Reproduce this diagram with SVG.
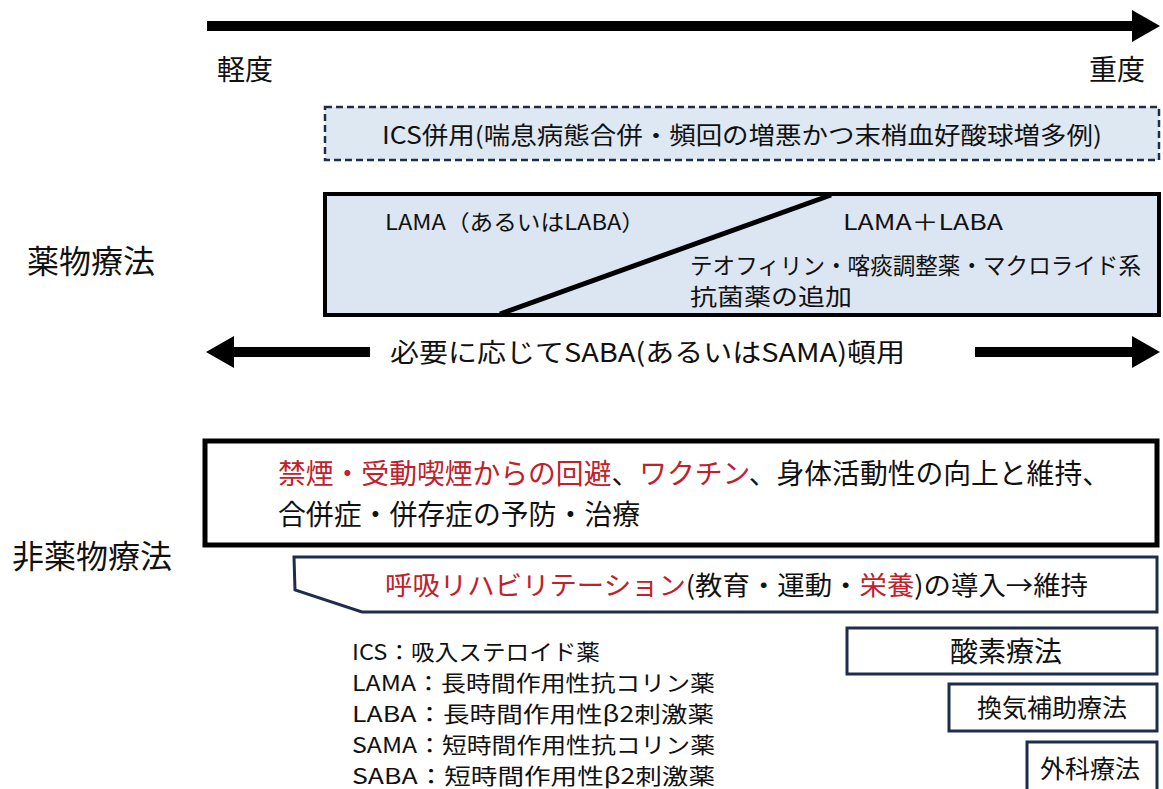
<svg xmlns="http://www.w3.org/2000/svg" width="1163" height="789" viewBox="0 0 1163 789">
<style>
text{font-family:"Noto Sans CJK JP","Noto Sans",sans-serif;fill:#111;}
.red{fill:#c0212b;}
.nv{fill:#fff;stroke:#1f2d4d;stroke-width:3;}
.arr{stroke:#000;stroke-width:10;fill:none;}
</style>
<defs>
<marker id="ah" markerUnits="userSpaceOnUse" markerWidth="28" markerHeight="32" refX="2" refY="16" orient="auto" viewBox="0 0 28 32">
<path d="M0,0 L28,16 L0,32 Z" fill="#000"/>
</marker>
</defs>
<rect width="1163" height="789" fill="#fff"/>

<g id="connectors">
<line class="arr" x1="207" y1="26" x2="1134" y2="26" marker-end="url(#ah)"/>
<line class="arr" x1="370" y1="352" x2="232" y2="352" marker-end="url(#ah)"/>
<line class="arr" x1="975" y1="352" x2="1134" y2="352" marker-end="url(#ah)"/>
</g>

<g id="axis-labels">
<text x="217" y="80" font-size="28">軽度</text>
<text x="1145" y="80" font-size="28" text-anchor="end">重度</text>
</g>

<g id="section-labels">
<text x="27" y="273" font-size="32">薬物療法</text>
<text x="12" y="568" font-size="32">非薬物療法</text>
</g>

<g id="ics">
<rect x="325" y="107" width="834" height="53" fill="#dde8f3" stroke="#1f2d4d" stroke-width="2.5" stroke-dasharray="7,4"/>
<text x="742" y="144" font-size="24" text-anchor="middle" textLength="720" lengthAdjust="spacingAndGlyphs">ICS併用(喘息病態合併・頻回の増悪かつ末梢血好酸球増多例)</text>
</g>

<g id="medication">
<rect x="325" y="194" width="834" height="121" fill="#dce6f2" stroke="#000" stroke-width="4"/>
<line x1="500" y1="314" x2="831" y2="195" stroke="#000" stroke-width="5"/>
<text x="385" y="230" font-size="22" textLength="260" lengthAdjust="spacingAndGlyphs">LAMA（あるいはLABA）</text>
<text x="843" y="230" font-size="22" textLength="160" lengthAdjust="spacingAndGlyphs">LAMA＋LABA</text>
<text x="690" y="274" font-size="23" textLength="451" lengthAdjust="spacingAndGlyphs">テオフィリン・喀痰調整薬・マクロライド系</text>
<text x="690" y="305" font-size="23" textLength="162" lengthAdjust="spacingAndGlyphs">抗菌薬の追加</text>
</g>

<g id="saba">
<text x="390" y="362" font-size="26" textLength="515" lengthAdjust="spacingAndGlyphs">必要に応じてSABA(あるいはSAMA)頓用</text>
</g>

<g id="nondrug">
<rect x="205" y="441" width="952" height="104" fill="#fff" stroke="#000" stroke-width="5"/>
<text x="278" y="484" font-size="28" textLength="832" lengthAdjust="spacingAndGlyphs"><tspan class="red">禁煙・受動喫煙からの回避</tspan>、<tspan class="red">ワクチン</tspan>、身体活動性の向上と維持、</text>
<text x="278" y="525" font-size="28" textLength="362" lengthAdjust="spacingAndGlyphs">合併症・併存症の予防・治療</text>
</g>

<g id="rehab">
<path d="M294,557 L1157,557 L1157,612 L362,612 L295,590 Z" class="nv"/>
<text x="385" y="595" font-size="26" textLength="703" lengthAdjust="spacingAndGlyphs"><tspan class="red">呼吸リハビリテーション</tspan>(教育・運動・<tspan class="red">栄養</tspan>)の導入→維持</text>
</g>

<g id="legend">
<text x="352" y="660" font-size="22" textLength="248" lengthAdjust="spacingAndGlyphs">ICS：吸入ステロイド薬</text>
<text x="352" y="691" font-size="22" textLength="363" lengthAdjust="spacingAndGlyphs">LAMA：長時間作用性抗コリン薬</text>
<text x="352" y="722" font-size="22" textLength="362" lengthAdjust="spacingAndGlyphs">LABA：長時間作用性β2刺激薬</text>
<text x="352" y="753" font-size="22" textLength="363" lengthAdjust="spacingAndGlyphs">SAMA：短時間作用性抗コリン薬</text>
<text x="352" y="784" font-size="22" textLength="363" lengthAdjust="spacingAndGlyphs">SABA：短時間作用性β2刺激薬</text>
</g>

<g id="oxygen">
<rect x="847" y="628" width="310" height="46" class="nv"/>
<text x="1006" y="662" font-size="28" text-anchor="middle">酸素療法</text>
</g>
<g id="ventilation">
<rect x="949" y="684" width="208" height="47" class="nv"/>
<text x="1052" y="717" font-size="25" text-anchor="middle">換気補助療法</text>
</g>
<g id="surgery">
<rect x="1027" y="742" width="130" height="50" class="nv"/>
<text x="1090" y="778" font-size="25" text-anchor="middle">外科療法</text>
</g>
</svg>
